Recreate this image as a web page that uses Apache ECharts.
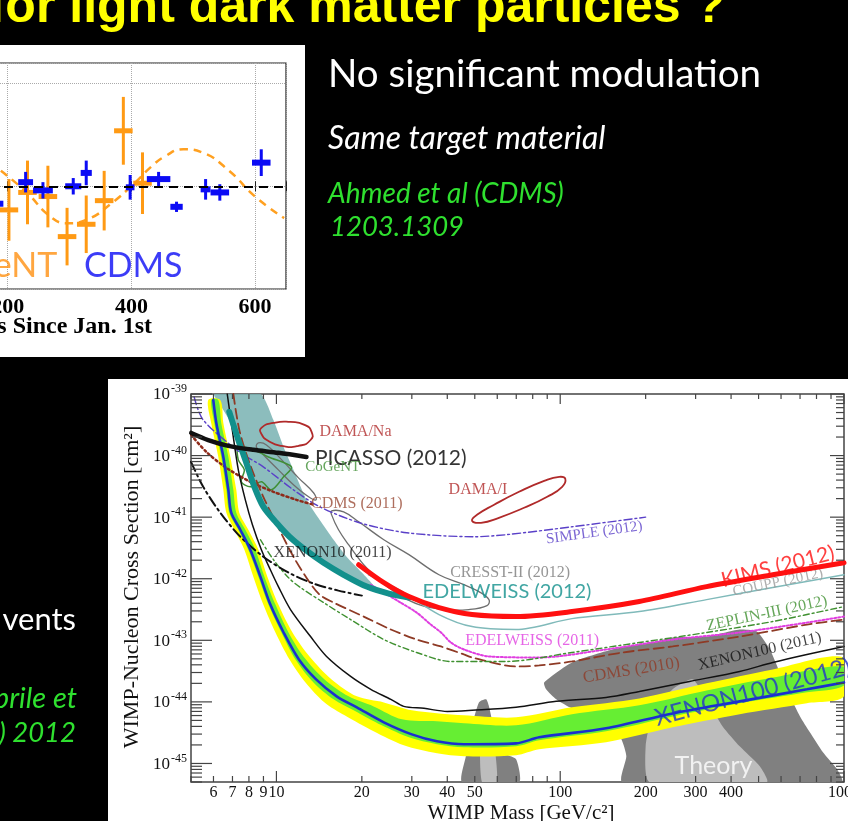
<!DOCTYPE html>
<html><head><meta charset="utf-8"><title>Light dark matter</title>
<script src="https://cdn.jsdelivr.net/npm/echarts@6/dist/echarts.min.js"></script>
<style>html,body{margin:0;padding:0;background:#000;overflow:hidden}#c{width:848px;height:821px}</style>
</head><body><div id="c"></div>
<script>
// ================= DATA =================
// ---- Inset: annual modulation, CoGeNT vs CDMS (residual rate vs day) ----
const cogentDays = [202, 232, 265, 296, 327, 356, 387, 418];
const cogentRate = [-0.23, -0.06, -0.10, -0.49, -0.37, -0.14, 0.54, 0.03];
const cogentErr = [0.30, 0.31, 0.30, 0.28, 0.28, 0.29, 0.33, 0.30];
const cogentHalfBin = [15, 15, 15, 15, 15, 15, 15, 15];
const cdmsDays = [185, 229, 257, 306, 327, 398, 444, 473, 520, 543, 610];
const cdmsRate = [-0.17, 0.04, -0.04, 0.00, 0.13, -0.01, 0.07, -0.20, -0.03, -0.06, 0.23];
const cdmsErr = [0.08, 0.10, 0.08, 0.08, 0.12, 0.12, 0.07, 0.05, 0.10, 0.08, 0.13];
const cdmsHalfBin = [8, 12, 16, 13, 9, 7, 19, 10, 8, 15, 15];
const modelDays = [189, 229, 270, 297, 330, 367, 405, 432, 454, 484, 514, 558, 600, 647];
const modelRate = [0.15, -0.05, -0.30, -0.36, -0.32, -0.17, 0.03, 0.19, 0.29, 0.36, 0.33, 0.15, -0.10, -0.31];
const insetTickDays = [200, 400, 600];
const insetLabelText = ['CoGeNT', 'CDMS'];
const insetLabelDay = [281, 403];
const insetLabelRate = [-0.78, -0.78];

// ---- Main plot: WIMP-nucleon cross section (cm^2) vs WIMP mass (GeV/c^2) ----
const xe100_2012_mass = [5.99,6.14,6.50,6.77,6.93,7.46,8.09,8.78,9.52,10.6,12.0,13.8,16.3,19.2,23.9,30,36.8,45.8,69.9,84.3,145,249,429,740,1000];
const xe100_2012_sigma = [8.0e-40,3.39e-40,9.5e-41,2.78e-41,1.18e-41,6.25e-42,2.96e-42,1.08e-42,3.8e-43,1.34e-43,4.89e-44,2.32e-44,1.23e-44,8.15e-45,4.66e-45,2.97e-45,2.29e-45,2.05e-45,2.12e-45,2.66e-45,3.72e-45,6.5e-45,1.02e-44,1.6e-44,2.07e-44];
const band2s_hi_mass = [6.34,6.50,6.88,7.22,7.40,7.96,8.64,9.29,10.16,11.39,13.08,15.65,19.2,23.9,30,37.4,45.8,69.9,110,190,328,561,1000];
const band2s_hi_sigma = [8.0e-40,3.39e-40,9.5e-41,2.78e-41,1.18e-41,6.25e-42,2.96e-42,1.08e-42,3.8e-43,1.34e-43,5.47e-44,2.32e-44,1.23e-44,9.8e-45,7.3e-45,6.5e-45,6.04e-45,5.61e-45,8.15e-45,1.14e-44,2.0e-44,3.37e-44,5.26e-44];
const band1s_hi_mass = [6.24,6.39,6.77,7.05,7.22,7.77,8.43,9.07,9.92,11.03,12.45,14.78,17.96,22.0,27.7,36.8,45.8,69.9,110,190,328,561,1000];
const band1s_hi_sigma = [8.0e-40,3.39e-40,9.5e-41,2.78e-41,1.18e-41,6.25e-42,2.96e-42,1.08e-42,3.8e-43,1.34e-43,5.47e-44,2.32e-44,1.23e-44,8.45e-45,5.2e-45,4.83e-45,4.5e-45,4.16e-45,6.3e-45,8.8e-45,1.53e-44,2.49e-44,3.77e-44];
const band1s_lo_mass = [5.89,6.04,6.39,6.66,6.82,7.34,7.96,8.64,9.37,10.41,11.67,13.51,15.90,18.71,23.5,29.3,36.8,45.8,69.9,84.3,145,249,429,740,1000];
const band1s_lo_sigma = [8.0e-40,3.39e-40,9.5e-41,2.78e-41,1.18e-41,6.25e-42,2.96e-42,1.08e-42,3.8e-43,1.34e-43,4.89e-44,2.07e-44,1.10e-44,7.3e-45,4.16e-45,2.66e-45,2.05e-45,1.83e-45,1.90e-45,2.38e-45,3.33e-45,5.8e-45,9.5e-45,1.43e-44,1.85e-44];
const band2s_lo_mass = [5.75,5.89,6.24,6.50,6.66,7.11,7.71,8.29,8.99,9.92,11.12,12.66,14.78,17.39,22.0,28.1,36.8,45.8,69.9,84.3,145,249,429,740,1000];
const band2s_lo_sigma = [8.0e-40,3.39e-40,9.5e-41,2.78e-41,1.18e-41,6.25e-42,2.96e-42,1.08e-42,3.8e-43,1.34e-43,4.89e-44,2.07e-44,9.8e-45,6.04e-45,3.33e-45,1.97e-45,1.46e-45,1.31e-45,1.36e-45,1.70e-45,2.21e-45,3.86e-45,6.3e-45,9.5e-45,1.23e-44];
const xe100_2011_mass = [6.71,6.99,7.34,7.77,8.23,8.85,9.52,10.16,11.21,13.19,15.02,18.26,21.5,25.3,28.1,33.1,40,48.9,69.9,96.8,145,190,285.6,429,561,740,1000];
const xe100_2011_sigma = [1.0e-39,2.61e-40,5.86e-41,1.91e-41,7.53e-42,2.96e-42,1.40e-42,7.45e-43,3.16e-43,1.15e-43,5.47e-44,2.59e-44,1.60e-44,1.10e-44,8.45e-45,7.85e-45,7.0e-45,7.3e-45,8.15e-45,1.02e-44,1.18e-44,1.48e-44,2.15e-44,3.12e-44,4.37e-44,5.89e-44,7.94e-44];
const xe10_2011_mass = [5.0,5.52,6.34,7.46,8.99,11.03,13.51,16.55,20];
const xe10_2011_sigma = [7.9e-41,3.11e-41,1.18e-41,4.81e-42,2.28e-42,1.26e-42,8.34e-43,6.41e-43,5.32e-43];
const simple_mass = [5.13,5.52,7.40,8.99,11.48,14.19,19.65,28.8,49.7,64.5,110,200];
const simple_sigma = [8.94e-40,3.79e-40,1.15e-40,6.56e-41,2.78e-41,1.48e-41,8.1e-42,5.58e-42,4.81e-42,5.19e-42,6.98e-42,1.0e-41];
const cdms2011_mass = [5.01,5.66,6.66,8.09,9.76,11.77,13.51];
const cdms2011_sigma = [2.16e-40,1.15e-40,6.32e-41,3.75e-41,2.58e-41,1.91e-41,1.59e-41];
const cdms2010_mass = [7.05,7.40,8.03,8.99,10.25,11.48,12.76,14.19,15.90,20.3,25.3,31.2,38.0,45.8,48.9,69.9,84.3,110,165.6,249,429,740,1000];
const cdms2010_sigma = [1.0e-39,2.61e-40,7.62e-41,2.14e-41,6.25e-42,2.28e-42,1.04e-42,5.52e-43,4.10e-43,2.43e-43,1.50e-43,1.03e-43,7.94e-44,5.89e-44,5.26e-44,3.77e-44,3.91e-44,4.53e-44,6.34e-44,7.94e-44,1.15e-43,1.80e-43,2.17e-43];
const edw2011_mass = [21.5,23.9,27.0,31.2,35.0,38.0,41.2,45.8,56.1,84.3,145,249,429,740,1000];
const edw2011_sigma = [8.0e-43,5.96e-43,4.26e-43,2.82e-43,1.80e-43,1.34e-43,9.2e-44,7.1e-44,5.47e-44,5.26e-44,7.1e-44,1.03e-43,1.34e-43,1.94e-43,2.43e-43];
const zeplin_mass = [8.78,9.76,11.03,12.16,14.66,18.26,23.9,31.2,41.2,64.5,110,190,328,561,1000];
const zeplin_sigma = [4.3e-42,2.04e-42,1.04e-42,7.18e-43,4.10e-43,2.17e-43,1.03e-43,6.34e-44,4.53e-44,4.53e-44,6.34e-44,9.2e-44,1.34e-43,2.02e-43,3.53e-43];
const edw2012_mass = [6.82,7.34,7.83,8.36,8.99,10,11.12,12.76,14.66,17.25,20.8,24.9,29.3];
const edw2012_sigma = [5.11e-40,1.79e-40,7.62e-41,3.11e-41,1.48e-41,8.1e-42,4.81e-42,2.85e-42,1.82e-42,1.16e-42,7.45e-43,5.74e-43,4.94e-43];
const kims_mass = [19.49,23.9,29.3,37.4,48.9,69.9,110,190,328,561,1000];
const kims_sigma = [1.69e-42,8.65e-43,5.13e-43,3.40e-43,2.62e-43,2.43e-43,2.93e-43,4.26e-43,7.45e-43,1.16e-42,1.82e-42];
const coupp_mass = [21.1,27.0,37.4,48.9,69.9,110,190,328,561,1000];
const coupp_sigma = [1.16e-42,6.65e-43,2.62e-43,1.67e-43,1.50e-43,2.25e-43,2.93e-43,4.58e-43,7.18e-43,1.16e-42];
const picasso_mass = [5.01,5.75,6.77,8.29,10.16,12.76];
const picasso_sigma = [2.33e-40,1.79e-40,1.44e-40,1.24e-40,1.11e-40,9.5e-41];
const tealRegion_mass = [6.04,8.78,9.76,10.6,11.48,12.76,14.19,15.90,17.67,20,22.6,20.8,17.25,14.66,12.76,11.12,10,8.99,8.36,7.83,7.34,6.82,6.34];
const tealRegion_sigma = [1.0e-39,1.0e-39,3.79e-40,1.38e-40,5.86e-41,1.91e-41,9.08e-42,4.3e-42,2.28e-42,1.26e-42,6.65e-43,7.45e-43,1.16e-42,1.82e-42,2.85e-42,4.81e-42,8.1e-42,1.48e-41,3.11e-41,7.62e-41,1.79e-40,3.79e-40,6.64e-40];
const cresst_mass = [15.65,17.25,19.49,23.9,29.3,37.4,45.8,51.7,56.1,55.2,47.7,38.9,31.8,27.0,22.9,20.3,17.96,16.55,15.65];
const cresst_sigma = [1.27e-41,1.22e-41,8.42e-42,4.3e-42,2.46e-42,1.16e-42,8.0e-43,6.18e-43,4.58e-43,3.66e-43,3.16e-43,3.16e-43,3.8e-43,5.52e-43,9.66e-43,1.69e-42,3.57e-42,6.25e-42,1.09e-41];
const cresst2_mass = [8.64,9.22,10.6,11.96,13.51,13.8,12.98,11.48,10.16,8.99,8.50];
const cresst2_sigma = [1.61e-40,1.49e-40,7.9e-41,4.35e-41,2.49e-41,1.91e-41,2.14e-41,3.35e-41,5.86e-41,1.03e-40,1.38e-40];
const cogentRegion_mass = [7.34,8.29,9.37,11.30,10.6,9.60,8.85,8.09,7.52,7.71,7.34];
const cogentRegion_sigma = [1.38e-40,1.24e-40,9.5e-41,6.56e-41,4.52e-41,2.78e-41,3.75e-41,3.11e-41,3.75e-41,5.86e-41,8.5e-41];
const damaNa_mass = [8.85,9.76,11.21,12.56,13.30,13.19,11.96,10.41,9.37,8.85];
const damaNa_sigma = [2.81e-40,3.39e-40,3.52e-40,3.15e-40,2.42e-40,1.79e-40,1.44e-40,1.44e-40,1.73e-40,2.25e-40];
const damaI_mass = [48.9,50.9,58.5,71.6,87.8,99.2,104.2,101.6,90.0,74.6,60.8,52.6];
const damaI_sigma = [8.75e-42,1.09e-41,1.59e-41,2.58e-41,3.89e-41,4.52e-41,4.19e-41,3.11e-41,2.14e-41,1.42e-41,9.77e-42,8.1e-42];
const theoryDark_mass = [87.8,110,152.6,211,249,328,429,493,548,594,645,700,758,843,945,984,165.6,171,164.3,152.6,129.8,110,96.8,89.2];
const theoryDark_sigma = [2.07e-44,4.37e-44,7.1e-44,9.2e-44,1.11e-43,1.15e-43,1.50e-43,1.39e-43,7.1e-44,3.0e-44,1.23e-44,5.8e-45,3.21e-45,1.52e-45,8.05e-46,5e-46,5e-46,1.31e-45,2.47e-45,4.0e-45,6.76e-45,7.85e-45,1.10e-44,1.60e-44];
const theoryLight_mass = [211,249,292.7,328,373.6,429,505,534.6,206.3,200];
const theoryLight_sigma = [5.8e-45,1.60e-44,2.32e-44,1.10e-44,4.0e-45,1.90e-45,9.0e-46,5e-46,5e-46,1.90e-45];
const theoryCol_mass = [45.1,46.5,48.5,51.7,54.8,56.1,58.5,62.4,69.9,71.6];
const theoryCol_sigma = [5e-46,1.31e-45,3.58e-45,9.8e-45,1.10e-44,8.45e-45,3.58e-45,1.52e-45,1.17e-45,5e-46];
const theoryColLight_mass = [53.0,52.6,57.0,59.9];
const theoryColLight_sigma = [5e-46,3.21e-45,4.0e-45,5e-46];

const curveLabelText = ['DAMA/Na','PICASSO (2012)','CoGeNT','DAMA/I','CDMS (2011)','SIMPLE (2012)','XENON10 (2011)','CRESST-II (2012)','EDELWEISS (2012)','KIMS (2012)','COUPP (2012)','ZEPLIN-III (2012)','EDELWEISS (2011)','XENON100 (2011)','CDMS (2010)','XENON100 (2012)','Theory'];
const curveLabelMass = [19.0, 25.3, 15.78, 51.3, 19.2, 131.9, 15.78, 66.6, 64.9, 584.7, 584.7, 534.6, 79.6, 505, 178, 477, 347];
const curveLabelSigma = [2.42e-40, 9.18e-41, 6.56e-41, 2.78e-41, 1.65e-41, 5.58e-42, 2.65e-42, 1.26e-42, 6.18e-43, 1.57e-42, 8.65e-43, 2.72e-43, 1.0e-43, 6.59e-44, 3.24e-44, 1.43e-44, 9.0e-46];

const xTickLabelValues = [6, 7, 8, 9, 10, 20, 30, 40, 50, 100, 200, 300, 400, 1000];
const yDecadeValues = [1e-45, 1e-44, 1e-43, 1e-42, 1e-41, 1e-40, 1e-39];
const yDecadeExponents = ['-45', '-44', '-43', '-42', '-41', '-40', '-39'];
const X_MIN = 5, X_MAX = 1000, Y_MIN = 5e-46, Y_MAX = 1e-39;

// ================= STYLES =================
const SERIF = '"Liberation Serif", "Times New Roman", serif';
const SANS = 'Lato, "Open Sans", sans-serif';
const labelStyles = [
  {c:'#b02a2a', f:SERIF, s:16, r:0},
  {c:'#000000', f:SANS, s:21, r:0},
  {c:'#3f8f35', f:SERIF, s:15, r:0},
  {c:'#b02a2a', f:SERIF, s:16, r:0},
  {c:'#9a4a35', f:SERIF, s:16, r:0},
  {c:'#5a40c8', f:SERIF, s:15, r:8},
  {c:'#111111', f:SERIF, s:16, r:0},
  {c:'#7a7a7a', f:SERIF, s:16, r:0},
  {c:'#12908c', f:SANS, s:20, r:0},
  {c:'#ff1010', f:SANS, s:21, r:14},
  {c:'#9a9a9a', f:SERIF, s:15, r:12},
  {c:'#3f9030', f:SERIF, s:16, r:12},
  {c:'#e03ee0', f:SERIF, s:16, r:0},
  {c:'#111111', f:SERIF, s:16, r:13},
  {c:'#8e3a25', f:SERIF, s:17, r:9},
  {c:'#2233cc', f:SANS, s:24, r:15},
  {c:'#ffffff', f:SANS, s:25, r:0}
];

// ================= HELPERS =================
const pairs = (a, b) => a.map((v, i) => [v, b[i]]);
const rev = a => a.slice().reverse();

function lineS(name, ms, ss, color, width, type, z, smooth) {
  return {type:'line', name, xAxisIndex:1, yAxisIndex:1, data:pairs(ms, ss), showSymbol:false, symbol:'none',
    smooth: smooth === undefined ? 0.3 : smooth, lineStyle:{color, width, type: type || 'solid', cap:'round'},
    z, silent:true, clip:true};
}
function polyS(name, ms, ss, fill, stroke, lw, z, smooth) {
  const pts = pairs(ms, ss);
  return {type:'custom', name, xAxisIndex:1, yAxisIndex:1, z, silent:true, clip:true,
    data:[pts[0]],
    renderItem: function (params, api) {
      return {type:'polygon', shape:{points: pts.map(p => api.coord(p)), smooth: smooth || 0},
        style:{fill: fill || 'none', stroke: stroke || 'none', lineWidth: lw || 0}};
    }};
}
function errS(days, rate, err, hw, color, barH, lw, z) {
  return {type:'custom', xAxisIndex:0, yAxisIndex:0, z, silent:true, clip:true,
    data: days.map((d, i) => [d, rate[i], err[i], hw[i]]),
    renderItem: function (params, api) {
      const x = api.value(0), y = api.value(1), e = api.value(2), w = api.value(3);
      const c = api.coord([x, y]), t = api.coord([x, y + e]), b = api.coord([x, y - e]);
      const l = api.coord([x - w, y]), r = api.coord([x + w, y]);
      return {type:'group', children:[
        {type:'line', shape:{x1:c[0], y1:t[1], x2:c[0], y2:b[1]}, style:{stroke:color, lineWidth:lw}},
        {type:'rect', shape:{x:l[0], y:c[1] - barH / 2, width:r[0] - l[0], height:barH}, style:{fill:color}}
      ]};
    }};
}
function txt(x, y, text, fill, font, align, extra) {
  return Object.assign({type:'text', x, y, z:100, silent:true,
    style:{text, fill, font, textAlign:align || 'left', align:align || 'left', textVerticalAlign:'middle', verticalAlign:'middle'}}, extra || {});
}

// axis decorations of the main plot (ticks + labels), placed via the axis scales
function axisDecor(params, api) {
  const ch = [];
  const bl = api.coord([X_MIN, Y_MIN]), tr = api.coord([X_MAX, Y_MAX]);
  const xl = bl[0], yb = bl[1], xr = tr[0], yt = tr[1];
  const ln = (x1, y1, x2, y2) => ch.push({type:'line', shape:{x1, y1, x2, y2}, style:{stroke:'#444', lineWidth:1.2}});
  [1, 10, 100, 1000].forEach(dec => {
    for (let k = 1; k <= 9; k++) {
      const v = k * dec;
      if (v < X_MIN || v > X_MAX * 1.0001) continue;
      const x = api.coord([v, Y_MIN])[0];
      const major = k === 1;
      ln(x, yb, x, yb - (major ? 11 : 6));
      ln(x, yt, x, yt + (major ? 10 : 5));
    }
  });
  xTickLabelValues.forEach(v => {
    const x = api.coord([v, Y_MIN])[0];
    ch.push({type:'text', x, y: yb + 11, style:{text:String(v), fill:'#111', font:'16px ' + SERIF, textAlign:'center', align:'center', textVerticalAlign:'middle', verticalAlign:'middle'}});
  });
  for (let n = -46; n <= -39; n++) {
    for (let k = 1; k <= 9; k++) {
      const v = k * Math.pow(10, n);
      if (v < Y_MIN * 0.999 || v > Y_MAX * 1.001) continue;
      const y = api.coord([X_MIN, v])[1];
      const major = k === 1;
      ln(xl, y, xl + (major ? 21 : 11), y);
      ln(xr, y, xr - (major ? 14 : 8), y);
    }
  }
  yDecadeValues.forEach((v, i) => {
    const y = api.coord([X_MIN, v])[1];
    ch.push({type:'text', x: xl - 21, y: y + 1, style:{text:'10', fill:'#111', font:'17px ' + SERIF, textAlign:'right', align:'right', textVerticalAlign:'middle', verticalAlign:'middle'}});
    ch.push({type:'text', x: xl - 20, y: y - 5, style:{text:yDecadeExponents[i], fill:'#111', font:'12px ' + SERIF, textAlign:'left', align:'left', textVerticalAlign:'middle', verticalAlign:'middle'}});
  });
  return {type:'group', children: ch};
}

// ================= CHART =================
const chart = echarts.init(document.getElementById('c'), null, {renderer:'canvas', width:848, height:821});

const labelSeries = {
  type:'scatter', xAxisIndex:1, yAxisIndex:1, z:10, silent:true, symbolSize:1,
  itemStyle:{color:'rgba(0,0,0,0)'},
  labelLayout:{hideOverlap:false},
  data: curveLabelText.map((t, i) => ({
    name:t, value:[curveLabelMass[i], curveLabelSigma[i]],
    label:{show:i !== 10, formatter:'{b}', position:'inside', color:labelStyles[i].c, fontFamily:labelStyles[i].f,
      fontSize:labelStyles[i].s, rotate:labelStyles[i].r, align:'center', verticalAlign:'middle'}
  }))
};
const couppLabelSeries = {
  type:'scatter', xAxisIndex:1, yAxisIndex:1, z:5, silent:true, symbolSize:1, itemStyle:{color:'rgba(0,0,0,0)'},
  data:[{name:curveLabelText[10], value:[curveLabelMass[10], curveLabelSigma[10]],
    label:{show:true, formatter:'{b}', position:'inside', color:labelStyles[10].c, fontFamily:labelStyles[10].f,
      fontSize:labelStyles[10].s, rotate:labelStyles[10].r}}]
};

const option = {
  backgroundColor:'#000',
  animation:false,
  grid:[
    {left:-116, right:562, top:63, bottom:532, show:true, borderColor:'#222', borderWidth:1.2, backgroundColor:'rgba(0,0,0,0)', outerBoundsMode:'none', containLabel:false},
    {left:191, right:4, top:394, bottom:39, show:true, borderColor:'#444', borderWidth:1.5, backgroundColor:'rgba(0,0,0,0)', outerBoundsMode:'none', containLabel:false}
  ],
  xAxis:[
    {gridIndex:0, type:'value', min:0, max:650, interval:200,
      axisLine:{show:false}, axisTick:{show:true, inside:true, length:5, lineStyle:{color:'#222'}},
      axisLabel:{color:'#000', fontFamily:SERIF, fontWeight:'bold', fontSize:22, margin:7,
        formatter: v => insetTickDays.indexOf(v) >= 0 ? String(v) : ''},
      splitLine:{show:true, lineStyle:{color:'#aaa', type:'dotted', width:1}}},
    {gridIndex:1, type:'log', logBase:10, min:X_MIN, max:X_MAX,
      axisLine:{show:false}, axisTick:{show:false}, axisLabel:{show:false}, splitLine:{show:false}},
    {gridIndex:0, type:'value', position:'top', min:0, max:650, interval:200,
      axisLine:{show:false}, axisTick:{show:true, inside:true, length:5, lineStyle:{color:'#222'}},
      axisLabel:{show:false}, splitLine:{show:false}}
  ],
  yAxis:[
    {gridIndex:0, type:'value', min:-1, max:1.2, interval:1,
      axisLine:{show:false}, axisTick:{show:false}, axisLabel:{show:false},
      splitLine:{show:true, lineStyle:{color:'#aaa', type:'dotted', width:1}}},
    {gridIndex:1, type:'log', logBase:10, min:Y_MIN, max:Y_MAX,
      axisLine:{show:false}, axisTick:{show:false}, axisLabel:{show:false}, splitLine:{show:false}},
    {gridIndex:0, type:'value', position:'right', min:-1, max:1.2, interval:1,
      axisLine:{show:false}, axisTick:{show:true, inside:true, length:5, lineStyle:{color:'#222'}},
      axisLabel:{show:false}, splitLine:{show:false}}
  ],
  graphic:[
    {type:'rect', shape:{x:0, y:45, width:305, height:312}, style:{fill:'#fff'}, z:-10, silent:true},
    {type:'rect', shape:{x:108, y:379, width:740, height:442}, style:{fill:'#fff'}, z:-10, silent:true},
    txt(725, 8, 'for light dark matter particles ?', '#ffff00', 'bold 50px "Liberation Sans", Arial, sans-serif', 'right'),
    txt(328, 75, 'No significant modulation', '#ffffff', '38.5px ' + SANS, 'left'),
    txt(328, 139, 'Same target material', '#ffffff', 'italic 32px ' + SANS, 'left'),
    txt(328, 194, 'Ahmed et al (CDMS)', '#2fe02f', 'italic 28px ' + SANS, 'left'),
    txt(330, 227, '1203.1309', '#2fe02f', 'italic 27.5px ' + SANS, 'left'),
    txt(76, 620, 'vents', '#ffffff', '31px ' + SANS, 'right'),
    txt(77, 699, 'prile et', '#2fe02f', 'italic 29px ' + SANS, 'right'),
    txt(76, 733, ') 2012', '#2fe02f', 'italic 27.5px ' + SANS, 'right'),
    txt(152, 327, 'Days Since Jan. 1st', '#000000', 'bold 24px ' + SERIF, 'right'),
    txt(521, 813, 'WIMP Mass [GeV/c²]', '#111111', '21px ' + SERIF, 'center'),
    txt(132, 587, 'WIMP-Nucleon Cross Section [cm²]', '#111111', '22px ' + SERIF, 'center', {rotation: Math.PI / 2})
  ],
  series:[
    // ---- inset ----
    {type:'line', xAxisIndex:0, yAxisIndex:0, data:pairs(modelDays, modelRate), showSymbol:false, symbol:'none', smooth:0.5,
      lineStyle:{color:'#ffa020', width:2.5, type:[8, 6]}, z:2, silent:true,
      markLine:{symbol:'none', silent:true, label:{show:false}, lineStyle:{color:'#000', width:2, type:[9, 6]}, data:[{yAxis:0}]}},
    errS(cogentDays, cogentRate, cogentErr, cogentHalfBin, '#ff9a14', 5, 3, 3),
    errS(cdmsDays, cdmsRate, cdmsErr, cdmsHalfBin, '#0b0bf5', 6, 3, 4),
    {type:'scatter', xAxisIndex:0, yAxisIndex:0, z:5, silent:true, symbolSize:1, itemStyle:{color:'rgba(0,0,0,0)'},
      data:[
        {name:insetLabelText[0], value:[insetLabelDay[0], insetLabelRate[0]], label:{show:true, formatter:'{b}', position:'left', distance:0, color:'#ff9010', fontFamily:SANS, fontSize:34}},
        {name:insetLabelText[1], value:[insetLabelDay[1], insetLabelRate[1]], label:{show:true, formatter:'{b}', position:'inside', color:'#0b0bf5', fontFamily:SANS, fontSize:34}}
      ]},
    // ---- main plot: regions ----
    polyS('Theory', theoryDark_mass, theoryDark_sigma, '#808080', null, 0, 1, 0.2),
    polyS('Theory light', theoryLight_mass, theoryLight_sigma, '#bdbdbd', null, 0, 1, 0.2),
    polyS('Theory col', theoryCol_mass, theoryCol_sigma, '#808080', null, 0, 1, 0.2),
    polyS('Theory col light', theoryColLight_mass, theoryColLight_sigma, '#bdbdbd', null, 0, 1, 0.2),
    polyS('Teal region', tealRegion_mass, tealRegion_sigma, 'rgba(120,178,178,0.85)', null, 0, 2, 0.2),
    polyS('2 sigma', band2s_hi_mass.concat(rev(band2s_lo_mass)), band2s_hi_sigma.concat(rev(band2s_lo_sigma)), '#ffff00', null, 0, 3, 0.3),
    polyS('1 sigma', band1s_hi_mass.concat(rev(band1s_lo_mass)), band1s_hi_sigma.concat(rev(band1s_lo_sigma)), '#66ee33', null, 0, 3, 0.3),
    polyS('CRESST-II', cresst_mass, cresst_sigma, 'none', '#6e6e6e', 1.3, 4, 0.4),
    polyS('CRESST-II b', cresst2_mass, cresst2_sigma, 'none', '#6e6e6e', 1.3, 4, 0.4),
    polyS('CoGeNT', cogentRegion_mass, cogentRegion_sigma, 'none', '#3f8f35', 1.5, 4, 0.3),
    polyS('DAMA/Na', damaNa_mass, damaNa_sigma, 'none', '#b02a2a', 1.8, 4, 0.6),
    polyS('DAMA/I', damaI_mass, damaI_sigma, 'none', '#b02a2a', 1.8, 4, 0.5),
    // ---- main plot: limit curves ----
    lineS('SIMPLE (2012)', simple_mass, simple_sigma, '#5a40c8', 1.4, [8, 3, 2, 3], 4),
    lineS('CDMS (2011)', cdms2011_mass, cdms2011_sigma, '#8e2a1a', 2.5, [2, 3], 4),
    lineS('CDMS (2010)', cdms2010_mass, cdms2010_sigma, '#8e3a25', 1.8, [10, 5], 4),
    lineS('EDELWEISS (2011)', edw2011_mass, edw2011_sigma, '#e03ee0', 2, [2, 2], 4),
    lineS('ZEPLIN-III (2012)', zeplin_mass, zeplin_sigma, '#3f9030', 1.4, [6, 3, 2, 3], 4),
    lineS('COUPP (2012)', coupp_mass, coupp_sigma, '#80baba', 1.5, 'solid', 4),
    lineS('XENON10 (2011)', xe10_2011_mass, xe10_2011_sigma, '#111111', 2, [10, 4, 2, 4], 6),
    lineS('XENON100 (2011)', xe100_2011_mass, xe100_2011_sigma, '#111111', 1.5, 'solid', 6),
    lineS('XENON100 (2012)', xe100_2012_mass, xe100_2012_sigma, '#1a2fd0', 2.6, 'solid', 6),
    lineS('EDELWEISS (2012)', edw2012_mass, edw2012_sigma, '#12908c', 6, 'solid', 7),
    lineS('KIMS (2012)', kims_mass, kims_sigma, '#ff1010', 5, 'solid', 8),
    lineS('PICASSO (2012)', picasso_mass, picasso_sigma, '#111111', 4.5, 'solid', 8),
    couppLabelSeries,
    labelSeries,
    {type:'custom', xAxisIndex:1, yAxisIndex:1, z:20, silent:true, clip:false, data:[[10, 1e-42]], renderItem:axisDecor}
  ]
};
chart.setOption(option);
</script></body></html>
